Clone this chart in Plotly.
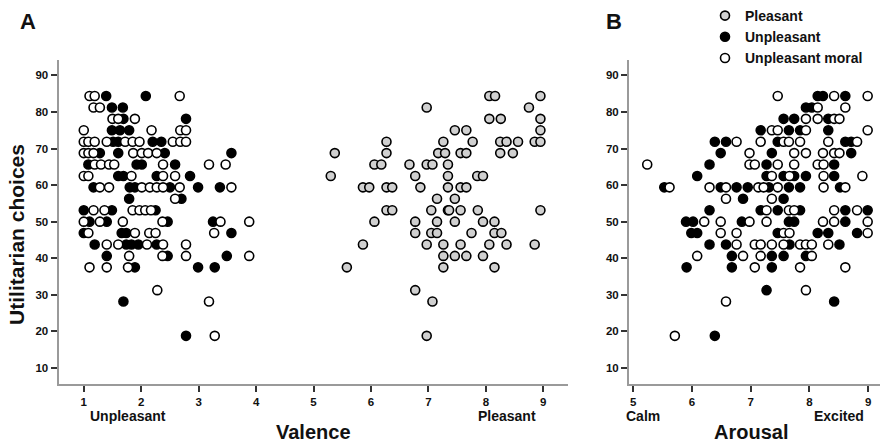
import plotly.graph_objects as go

# ---------------- Panel A (Valence) ----------------
a_pleasant_x = [6.97, 6.27, 7.26, 5.37, 6.27, 7.17, 7.29, 6.06, 6.18, 6.67, 6.97, 7.07, 7.34, 5.30, 6.77, 7.34,
                5.86, 5.97, 6.27, 6.37, 6.86, 7.34, 7.15, 6.27, 6.37, 7.05, 7.34, 6.06, 6.77, 7.15, 6.77, 7.05,
                7.15, 5.86, 6.97, 7.26, 7.26, 7.26, 5.58, 6.77, 7.07, 6.97,
                8.06, 8.16, 8.95, 8.75, 8.06, 8.26, 8.95, 7.46, 7.66, 8.95, 7.77, 8.25, 8.36, 8.56, 8.85, 8.95,
                7.56, 7.66, 8.25, 8.47, 7.85, 7.95, 7.56, 7.66, 7.46, 7.36, 7.56, 7.86, 8.95, 7.46, 7.95, 8.15,
                7.75, 8.15, 8.27, 7.56, 8.06, 8.36, 8.85, 7.46, 7.66, 7.95, 8.15]
a_pleasant_y = [81.25, 71.88, 71.88, 68.75, 68.75, 68.75, 68.75, 65.63, 65.63, 65.63, 65.63, 65.63, 65.63, 62.5, 62.5, 62.5,
                59.38, 59.38, 59.38, 59.38, 59.38, 59.38, 56.25, 53.13, 53.13, 53.13, 53.13, 50.0, 50.0, 50.0, 46.88, 46.88,
                46.88, 43.75, 43.75, 43.75, 40.63, 37.5, 37.5, 31.25, 28.13, 18.75,
                84.38, 84.38, 84.38, 81.25, 78.13, 78.13, 78.13, 75.0, 75.0, 75.0, 71.88, 71.88, 71.88, 71.88, 71.88, 71.88,
                68.75, 68.75, 68.75, 68.75, 62.5, 62.5, 59.38, 59.38, 56.25, 53.13, 53.13, 53.13, 53.13, 50.0, 50.0, 50.0,
                46.88, 46.88, 46.88, 43.75, 43.75, 43.75, 43.75, 40.63, 40.63, 40.63, 37.5]

a_unpl_x = [1.39, 2.08, 1.49, 1.68, 1.69, 2.78, 1.49, 1.63, 1.79, 1.51, 1.60, 2.20, 2.35,
            1.28, 1.60, 2.41, 3.57, 1.08, 1.92, 2.01, 2.59, 1.60, 1.69, 2.27, 2.85,
            1.17, 1.80, 1.89, 2.50, 2.99, 3.37, 1.79, 2.70, 1.00, 1.49, 2.25,
            1.10, 1.40, 2.46, 3.25, 1.00, 1.66, 1.74, 3.57, 1.19, 1.74, 1.83, 1.95, 2.27,
            1.40, 2.46, 3.49, 1.89, 2.99, 3.28, 1.69, 2.78]
a_unpl_y = [84.38, 84.38, 81.25, 81.25, 78.13, 78.13, 75.0, 75.0, 75.0, 71.88, 71.88, 71.88, 71.88,
            68.75, 68.75, 68.75, 68.75, 65.63, 65.63, 65.63, 65.63, 62.5, 62.5, 62.5, 62.5,
            59.38, 59.38, 59.38, 59.38, 59.38, 59.38, 56.25, 56.25, 53.13, 53.13, 53.13,
            50.0, 50.0, 50.0, 50.0, 46.88, 46.88, 46.88, 46.88, 43.75, 43.75, 43.75, 43.75, 43.75,
            40.63, 40.63, 40.63, 37.5, 37.5, 37.5, 28.13, 18.75]

a_moral_x = [1.10, 1.19, 2.67, 1.17, 1.28, 1.50, 1.60, 1.89, 1.00, 2.18, 2.68, 2.78,
             1.00, 1.08, 1.19, 1.40, 1.72, 1.85, 1.97, 2.55, 2.68, 2.78,
             1.00, 1.08, 1.17, 1.86, 2.01, 2.12, 2.27,
             1.19, 1.30, 1.44, 1.53, 2.38, 3.18, 3.47,
             1.00, 1.08, 1.83, 2.38, 2.59,
             1.28, 1.44, 2.01, 2.15, 2.27, 2.38, 2.67, 3.57,
             2.59, 1.17, 1.36, 1.85, 1.97, 2.07, 2.17,
             1.00, 1.28, 1.68, 2.37, 3.38, 3.88,
             1.08, 1.89, 2.14, 2.25, 3.27,
             1.40, 1.60, 2.10, 2.38, 2.78,
             1.79, 2.37, 2.78, 3.88,
             1.10, 1.40, 1.77, 2.28, 3.18, 3.28]
a_moral_y = [84.38, 84.38, 84.38, 81.25, 81.25, 78.13, 78.13, 78.13, 75.0, 75.0, 75.0, 75.0,
             71.88, 71.88, 71.88, 71.88, 71.88, 71.88, 71.88, 71.88, 71.88, 71.88,
             68.75, 68.75, 68.75, 68.75, 68.75, 68.75, 68.75,
             65.63, 65.63, 65.63, 65.63, 65.63, 65.63, 65.63,
             62.5, 62.5, 62.5, 62.5, 62.5,
             59.38, 59.38, 59.38, 59.38, 59.38, 59.38, 59.38, 59.38,
             56.25, 53.13, 53.13, 53.13, 53.13, 53.13, 53.13,
             50.0, 50.0, 50.0, 50.0, 50.0, 50.0,
             46.88, 46.88, 46.88, 46.88, 46.88,
             43.75, 43.75, 43.75, 43.75, 43.75,
             40.63, 40.63, 40.63, 40.63,
             37.5, 37.5, 37.5, 31.25, 28.13, 18.75]

# ---------------- Panel B (Arousal) ----------------
b_unpl_x = [8.14, 8.23, 8.61, 7.94, 8.04, 7.56, 7.74, 8.32, 7.17, 7.65, 7.84, 8.32,
            6.39, 6.58, 7.46, 8.61, 8.71, 6.49, 7.36, 8.71, 6.30, 7.27, 8.42,
            6.09, 7.27, 7.56, 7.74, 7.94, 8.42,
            5.53, 6.49, 6.76, 6.95, 7.31, 7.65, 7.84, 8.52, 6.87, 7.56,
            6.30, 7.17, 7.46, 7.84, 8.61, 8.99,
            5.90, 6.02, 6.85, 7.65, 7.74, 8.61,
            5.99, 6.09, 7.46, 8.14, 8.32, 8.81,
            6.30, 6.58, 7.66, 8.51, 6.68, 7.36, 7.56, 7.94,
            5.91, 6.68, 7.36, 7.27, 8.42, 6.39]
b_unpl_y = [84.38, 84.38, 84.38, 81.25, 81.25, 78.13, 78.13, 78.13, 75.0, 75.0, 75.0, 75.0,
            71.88, 71.88, 71.88, 71.88, 71.88, 68.75, 68.75, 68.75, 65.63, 65.63, 65.63,
            62.5, 62.5, 62.5, 62.5, 62.5, 62.5,
            59.38, 59.38, 59.38, 59.38, 59.38, 59.38, 59.38, 59.38, 56.25, 56.25,
            53.13, 53.13, 53.13, 53.13, 53.13, 53.13,
            50.0, 50.0, 50.0, 50.0, 50.0, 50.0,
            46.88, 46.88, 46.88, 46.88, 46.88, 46.88,
            43.75, 43.75, 43.75, 43.75, 40.63, 40.63, 40.63, 40.63,
            37.5, 37.5, 37.5, 31.25, 28.13, 18.75]

b_moral_x = [7.46, 8.42, 8.99, 8.14, 8.61, 7.94, 8.14, 8.42, 8.51, 7.36, 7.46, 7.94, 8.99,
             6.76, 7.17, 7.56, 7.65, 7.84, 8.32, 8.81,
             6.98, 7.74, 7.94, 8.23, 8.42, 8.51,
             5.24, 6.98, 7.07, 7.46, 7.74, 8.14, 8.24,
             7.36, 7.66, 8.24, 8.90,
             5.62, 6.30, 6.58, 7.13, 7.22, 7.46, 8.24, 8.61,
             6.58, 7.36, 7.27, 7.65, 7.74, 8.42, 8.81,
             6.21, 6.49, 6.98, 7.27, 8.23, 8.42, 8.99,
             6.49, 6.76, 7.56, 7.66, 8.99,
             6.76, 7.07, 7.17, 7.36, 7.56, 7.84, 7.94, 8.04, 8.32,
             6.09, 6.87, 7.17, 8.04, 7.07, 7.84, 8.61, 7.94, 6.58, 5.71]
b_moral_y = [84.38, 84.38, 84.38, 81.25, 81.25, 78.13, 78.13, 78.13, 78.13, 75.0, 75.0, 75.0, 75.0,
             71.88, 71.88, 71.88, 71.88, 71.88, 71.88, 71.88,
             68.75, 68.75, 68.75, 68.75, 68.75, 68.75,
             65.63, 65.63, 65.63, 65.63, 65.63, 65.63, 65.63,
             62.5, 62.5, 62.5, 62.5,
             59.38, 59.38, 59.38, 59.38, 59.38, 59.38, 59.38, 59.38,
             56.25, 56.25, 53.13, 53.13, 53.13, 53.13, 53.13,
             50.0, 50.0, 50.0, 50.0, 50.0, 50.0, 50.0,
             46.88, 46.88, 46.88, 46.88, 46.88,
             43.75, 43.75, 43.75, 43.75, 43.75, 43.75, 43.75, 43.75, 43.75,
             40.63, 40.63, 40.63, 40.63, 37.5, 37.5, 37.5, 31.25, 28.13, 18.75]

a_ticks = [1, 2, 3, 4, 5, 6, 7, 8, 9]
b_ticks = [5, 6, 7, 8, 9]
y_ticks = [10, 20, 30, 40, 50, 60, 70, 80, 90]
series_names = ["Pleasant", "Unpleasant", "Unpleasant moral"]

W, H = 892, 446
FONT = "Arial, Liberation Sans, sans-serif"
fill_colors = {"Pleasant": "#d0d0d0", "Unpleasant": "#000000", "Unpleasant moral": "#ffffff"}


def px(x):
    return x / W


def py(y):
    return 1 - y / H


fig = go.Figure()


def add(xs, ys, name, xa, ya, legend):
    fig.add_trace(go.Scatter(
        x=xs, y=ys, mode="markers", name=name, showlegend=legend,
        xaxis=xa, yaxis=ya,
        marker=dict(size=9, color=fill_colors[name], line=dict(color="#000000", width=1.6)),
    ))


add(a_pleasant_x, a_pleasant_y, series_names[0], "x", "y", True)
add(a_unpl_x, a_unpl_y, series_names[1], "x", "y", True)
add(a_moral_x, a_moral_y, series_names[2], "x", "y", True)
add(b_unpl_x, b_unpl_y, series_names[1], "x2", "y2", False)
add(b_moral_x, b_moral_y, series_names[2], "x2", "y2", False)

tickfont = dict(family=FONT, size=11.5, color="#111111", weight="bold")
axis_common = dict(showline=True, linecolor="#9a9a9a", linewidth=2, ticks="outside", ticklen=6,
                   tickwidth=1.5, tickcolor="#333333", showgrid=False, zeroline=False,
                   tickfont=tickfont)

ydom = [py(384), py(58)]
yrange = [5.5, 94.3]

fig.update_layout(
    width=W, height=H, autosize=False,
    margin=dict(l=0, r=0, t=0, b=0),
    plot_bgcolor="white", paper_bgcolor="white",
    xaxis=dict(domain=[px(58.5), px(568)], range=[0.56, 9.43], tickvals=a_ticks, anchor="y", **axis_common),
    yaxis=dict(domain=ydom, range=yrange, tickvals=y_ticks, anchor="x", **axis_common),
    xaxis2=dict(domain=[px(629), px(880)], range=[4.93, 9.2], tickvals=b_ticks, anchor="y2", **axis_common),
    yaxis2=dict(domain=ydom, range=yrange, tickvals=y_ticks, anchor="x2", **axis_common),
    legend=dict(x=px(705), y=py(-2), xanchor="left", yanchor="top",
                font=dict(family=FONT, size=14, color="#111111", weight="bold"),
                itemwidth=30, tracegroupgap=0, bgcolor="rgba(0,0,0,0)"),
)

ann = []


def label(text, x, y, size, rot=0):
    ann.append(dict(text=text, x=px(x), y=py(y), xref="paper", yref="paper", showarrow=False,
                    textangle=rot, xanchor="center", yanchor="middle",
                    font=dict(family=FONT, size=size, color="#111111", weight="bold")))


label("A", 28, 20, 22)
label("B", 614, 20, 22)
label("Utilitarian choices", 17, 234, 21, -90)
label("Valence", 313, 432, 20)
label("Arousal", 751, 432, 20)
label("Unpleasant", 128, 416, 14)
label("Pleasant", 507, 416, 14)
label("Calm", 643, 416, 14)
label("Excited", 839, 416, 14)
fig.update_layout(annotations=ann)

fig.write_html("out.html", config={"displayModeBar": False},
               post_script="document.body.style.margin='0';document.body.style.overflow='hidden';")
